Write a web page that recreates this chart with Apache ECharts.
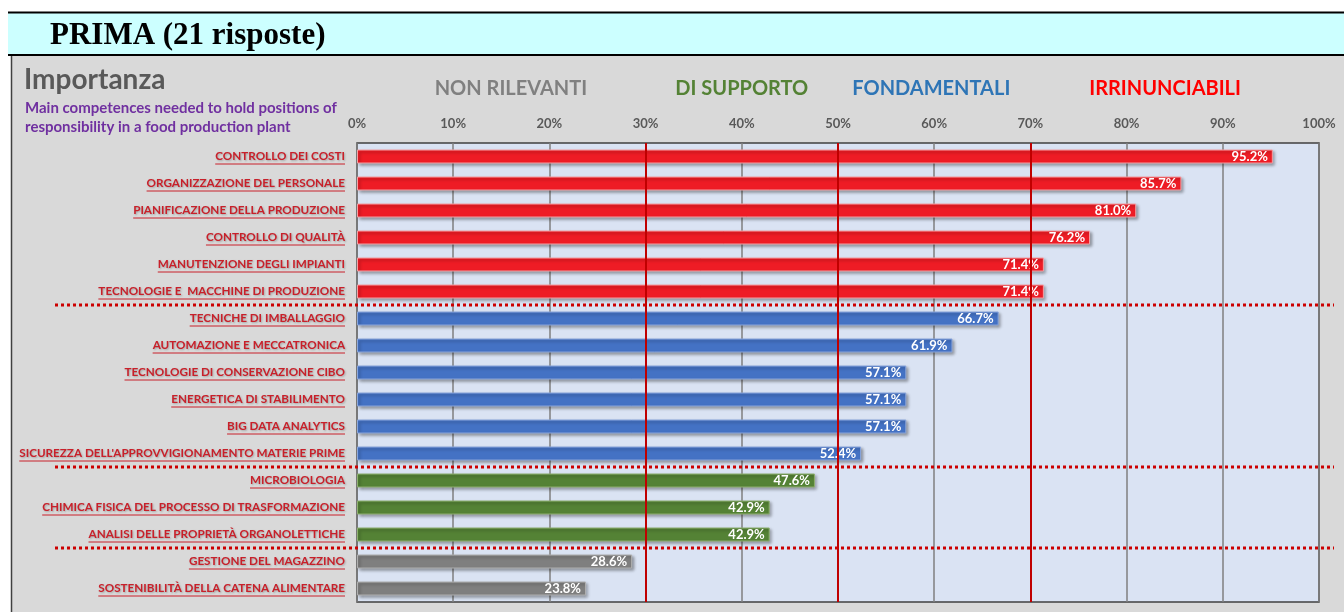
<!DOCTYPE html>
<html>
<head>
<meta charset="utf-8">
<script src="https://cdn.jsdelivr.net/npm/echarts@6/dist/echarts.min.js"></script>
<style>
  html, body { margin: 0; padding: 0; background: #fff; }
  #chart { width: 1344px; height: 612px; }
</style>
</head>
<body>
<div id="chart"></div>
<script>
// data (percent of 21 answers)
const categories = [
  'CONTROLLO DEI COSTI',
  'ORGANIZZAZIONE DEL PERSONALE',
  'PIANIFICAZIONE DELLA PRODUZIONE',
  'CONTROLLO DI QUALITÀ',
  'MANUTENZIONE DEGLI IMPIANTI',
  'TECNOLOGIE E  MACCHINE DI PRODUZIONE',
  'TECNICHE DI IMBALLAGGIO',
  'AUTOMAZIONE E MECCATRONICA',
  'TECNOLOGIE DI CONSERVAZIONE CIBO',
  'ENERGETICA DI STABILIMENTO',
  'BIG DATA ANALYTICS',
  "SICUREZZA DELL'APPROVVIGIONAMENTO MATERIE PRIME",
  'MICROBIOLOGIA',
  'CHIMICA FISICA DEL PROCESSO DI TRASFORMAZIONE',
  'ANALISI DELLE PROPRIETÀ ORGANOLETTICHE',
  'GESTIONE DEL MAGAZZINO',
  'SOSTENIBILITÀ DELLA CATENA ALIMENTARE'
];
const values = [95.2, 85.7, 81.0, 76.2, 71.4, 71.4, 66.7, 61.9, 57.1, 57.1, 57.1, 52.4, 47.6, 42.9, 42.9, 28.6, 23.8];
// 0 = non rilevanti, 1 = di supporto, 2 = fondamentali, 3 = irrinunciabili
const groups = [3, 3, 3, 3, 3, 3, 2, 2, 2, 2, 2, 2, 1, 1, 1, 0, 0];
const groupColors = ['#7f7f7f', '#548235', '#4472c4', '#ee1c25'];
const groupBorders = ['#b0b0b0', '#8fb070', '#8aa6dc', '#f6a0a4'];

const zoneNames = ['NON RILEVANTI', 'DI SUPPORTO', 'FONDAMENTALI', 'IRRINUNCIABILI'];
const zoneColors = ['#808080', '#548235', '#2e75b6', '#ff0000'];
const zoneCenters = [16, 40, 59.7, 84];
const thresholds = [30, 50, 70];
// separators after these row indexes
const separators = [6, 12, 15];

const labelFont = 'Lato';
const catFontSize = 11.7;
const chart = echarts.init(document.getElementById('chart'));

let option = {
  backgroundColor: '#d9d9d9',
  animation: false,
  grid: {
    left: 357, right: 25, top: 143, bottom: 10,
    show: true,
    backgroundColor: '#dae3f3',
    borderColor: '#404040',
    borderWidth: 1.5
  },
  xAxis: {
    type: 'value',
    position: 'top',
    min: 0, max: 100, interval: 10,
    axisLine: { show: false },
    axisTick: { show: false },
    axisLabel: {
      formatter: '{value}%',
      color: '#595959',
      fontFamily: labelFont,
      fontWeight: 'bold',
      fontSize: 13,
      margin: 13
    },
    splitLine: { lineStyle: { color: '#7f7f7f', width: 1.5 } }
  },
  yAxis: {
    type: 'category',
    inverse: true,
    data: categories,
    axisLine: { show: false },
    axisTick: { show: false },
    axisLabel: {
      color: '#c8202a',
      fontFamily: labelFont,
      fontWeight: 'bold',
      fontSize: catFontSize,
      margin: 12,
      textShadowColor: 'rgba(0,0,0,0.25)',
      textShadowBlur: 2,
      textShadowOffsetX: 1,
      textShadowOffsetY: 1
    }
  },
  series: [{
    type: 'bar',
    barWidth: 14,
    data: values.map((v, i) => ({
      value: v,
      itemStyle: {
        color: groupColors[groups[i]],
        borderColor: groupBorders[groups[i]],
        borderWidth: 1,
        shadowColor: 'rgba(0,0,0,0.35)',
        shadowBlur: 3,
        shadowOffsetX: 2,
        shadowOffsetY: 2
      }
    })),
    label: {
      show: true,
      position: 'insideRight',
      distance: 5,
      formatter: p => p.value.toFixed(1) + '%',
      color: '#fff',
      fontFamily: labelFont,
      fontWeight: 'bold',
      fontSize: 13
    },
    markLine: {
      symbol: 'none',
      silent: true,
      label: { show: false },
      lineStyle: { color: '#c00000', width: 2, type: 'solid' },
      data: thresholds.map(t => ({ xAxis: t }))
    }
  }]
};
chart.setOption(option);

// decorations placed with the chart's own scales
const px = v => chart.convertToPixel({ xAxisIndex: 0 }, v);
const py = c => chart.convertToPixel({ yAxisIndex: 0 }, c);
const band = py(categories[1]) - py(categories[0]);

const ctx = document.createElement('canvas').getContext('2d');
ctx.font = 'bold ' + catFontSize + 'px ' + labelFont;

const graphics = [
  { type: 'rect', shape: { x: 0, y: 0, width: 1344, height: 56 }, style: { fill: '#fff' } },
  { type: 'rect', shape: { x: 0, y: 56, width: 11, height: 556 }, style: { fill: '#fff' } },
  { type: 'rect', shape: { x: 8, y: 13, width: 1336, height: 41 }, style: { fill: '#ccffff' } },
  { type: 'line', shape: { x1: 8, y1: 12.5, x2: 1344, y2: 12.5 }, style: { stroke: '#000', lineWidth: 2 } },
  { type: 'line', shape: { x1: 8, y1: 55, x2: 1344, y2: 55 }, style: { stroke: '#000', lineWidth: 2 } },
  { type: 'line', shape: { x1: 11.5, y1: 56, x2: 11.5, y2: 612 }, style: { stroke: '#404040', lineWidth: 1.5 } },
  { type: 'text', x: 50, y: 36, style: { text: 'PRIMA (21 risposte)', font: 'bold 31px "Liberation Serif"', fill: '#000', textVerticalAlign: 'middle' } },
  { type: 'text', x: 24, y: 80, style: { text: 'Importanza', font: 'bold 28px Lato', fill: '#595959', textVerticalAlign: 'middle' } },
  { type: 'text', x: 25, y: 108, style: { text: 'Main competences needed to hold positions of', font: 'bold 15px Lato', fill: '#7030a0', textVerticalAlign: 'middle' } },
  { type: 'text', x: 25, y: 127, style: { text: 'responsibility in a food production plant', font: 'bold 15px Lato', fill: '#7030a0', textVerticalAlign: 'middle' } }
];

zoneNames.forEach((name, i) => {
  graphics.push({
    type: 'text', x: px(zoneCenters[i]), y: 89,
    style: { text: name, font: 'bold 20px Lato', fill: zoneColors[i], textAlign: 'center', textVerticalAlign: 'middle' }
  });
});

// underline under every category label
categories.forEach(c => {
  const w = ctx.measureText(c).width;
  const right = px(0) - 12;
  const y = py(c) + 7.5;
  graphics.push({
    type: 'line', shape: { x1: right - w, y1: y, x2: right, y2: y },
    style: { stroke: '#c8202a', lineWidth: 1 }
  });
});

separators.forEach(idx => {
  const y = py(categories[idx]) - band / 2;
  graphics.push({
    type: 'line', shape: { x1: 55, y1: y, x2: 1334, y2: y },
    style: { stroke: '#cc0000', lineWidth: 3, lineDash: [3, 3] },
    z: 100
  });
});

chart.setOption({ graphic: { elements: graphics } });
</script>
</body>
</html>
